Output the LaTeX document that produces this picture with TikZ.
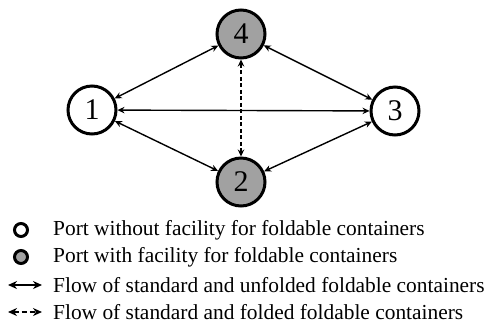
\documentclass[tikz,border=0pt]{standalone}
\usepackage{fontspec}
\setmainfont{Liberation Serif}
\usetikzlibrary{arrows.meta}
\begin{document}
\begin{tikzpicture}[x=1pt,y=-1pt,
  port/.style={circle,draw=black,line width=3pt,minimum size=48pt,inner sep=0pt,font=\fontsize{30}{30}\selectfont},
  plain/.style={port,fill=white},
  fac/.style={port,fill=black!37},
  flow/.style={line width=1.4pt,{Stealth[length=7pt,width=6.5pt]}-{Stealth[length=7pt,width=6.5pt]}},
  dflow/.style={flow,dash pattern=on 4pt off 2.5pt},
  lflow/.style={line width=2pt,{Stealth[length=9pt,width=8pt]}-{Stealth[length=9pt,width=8pt]}},
  ldflow/.style={lflow,dash pattern=on 5pt off 3pt},
  lsym/.style={circle,draw=black,line width=3pt,minimum size=13pt,inner sep=0pt},
  ltext/.style={anchor=west,font=\fontsize{21.4}{21.4}\selectfont,inner sep=0pt}]
\useasboundingbox (0,0) rectangle (489,325);
\node[plain] (n1) at (92,110) {1};
\node[fac] (n4) at (241,34) {4};
\node[plain] (n3) at (395,111) {3};
\node[fac] (n2) at (241,182) {2};
\draw[flow] (n1) -- (n4);
\draw[flow] (n4) -- (n3);
\draw[flow] (n1) -- (n3);
\draw[flow] (n1) -- (n2);
\draw[flow] (n2) -- (n3);
\draw[dflow] (n4) -- (n2);
% legend
\node[lsym,fill=white] (s1) at (21,230) {};
\node[lsym,fill=black!37] (s2) at (21,257) {};
\coordinate (a1) at (8,285);
\coordinate (b1) at (42,285);
\coordinate (a2) at (8,312);
\coordinate (b2) at (42,312);
\draw[lflow] (a1) -- (b1);
\draw[ldflow] (a2) -- (b2);
\node[ltext] (t1) at (53,230) {Port without facility for foldable containers};
\node[ltext] (t2) at (53,257) {Port with facility for foldable containers};
\node[ltext] (t3) at (53,285) {Flow of standard and unfolded foldable containers};
\node[ltext] (t4) at (53,312) {Flow of standard and folded foldable containers};
\end{tikzpicture}
\end{document}
